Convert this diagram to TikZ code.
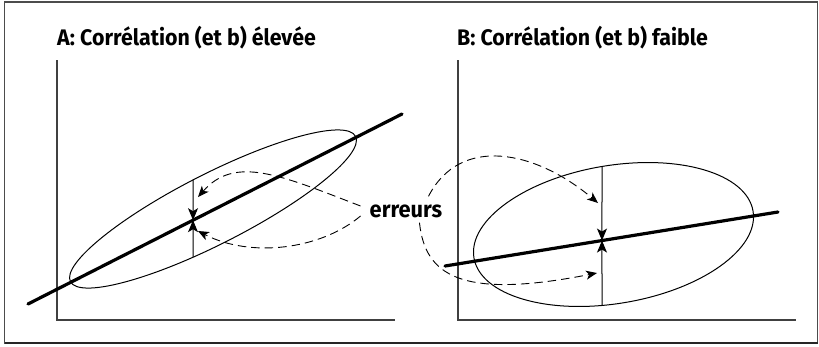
\documentclass[tikz,border=0pt]{standalone}
\usepackage{fontspec}
\setmainfont{Fira Sans}[FakeStretch=0.95]
\usetikzlibrary{arrows.meta,calc}

\begin{document}
\begin{tikzpicture}[x=1pt,y=-1pt,
  axis/.style={draw=black!75,line width=1.3pt},
  fit line/.style={line width=3.2pt,line cap=round},
  cloud/.style={line width=1pt},
  err arrow/.style={line width=1pt,-{Stealth[length=12pt,width=10pt,inset=3pt]}},
  pointer/.style={line width=0.9pt,dash pattern=on 8.5pt off 5pt,-{Stealth[length=11pt,width=9pt,inset=3pt]}},
  title/.style={anchor=base west,inner sep=0pt,font=\fontsize{22.5}{26}\selectfont\bfseries}]
\useasboundingbox (0,0) rectangle (819,346);

% Frame
\draw[black!70,line width=1.2pt] (4.5,2) rectangle (817.5,343);
\draw[black!85,line width=2.4pt] (4.5,343) -- (817.5,343);

% Titles
\node[title] (titleA) at (57,45) {A: Corrélation (et b) élevée};
\node[title] (titleB) at (457,45) {B: Corrélation (et b) faible};

% Axes
\draw[axis] (57,60) -- (57,320) -- (395,320);
\draw[axis] (458,60) -- (458,320) -- (796,320);

% Panel A: ellipse and regression line
\draw[cloud,rotate around={27:(213,209)}] (213,209) ellipse (160 and 35);
\coordinate (la1) at (28,304);
\coordinate (la2) at (402,114);
\draw[fit line] (la1) -- (la2);
\coordinate (va1) at (193,179.5);
\coordinate (va2) at (193,257);
\coordinate (ma) at (intersection of la1--la2 and va1--va2);
\draw[err arrow] (va1) -- (ma);
\draw[err arrow] (va2) -- (ma);

% Panel B: ellipse and regression line
\draw[cloud,rotate around={9.5:(613.5,234.5)}] (613.5,234.5) ellipse (141.5 and 69);
\coordinate (lb1) at (445,266);
\coordinate (lb2) at (778,212);
\draw[fit line] (lb1) -- (lb2);
\coordinate (vb1) at (602,166.5);
\coordinate (vb2) at (602,305.4);
\coordinate (mb) at (intersection of lb1--lb2 and vb1--vb2);
\draw[err arrow] (vb1) -- (mb);
\draw[err arrow] (vb2) -- (mb);

% Label and dashed pointers
\node[inner sep=0pt,font=\fontsize{23}{26}\selectfont\bfseries] (err) at (406,211) {erreurs};
\coordinate (ea1) at ($(err.west)+(-9,-5)$);
\coordinate (ea2) at ($(err.west)+(-9,5)$);
\coordinate (eb1) at ($(err.north east)+(-14,-8)$);
\coordinate (eb2) at ($(err.south east)+(-23,5)$);
\coordinate (ta1) at (198,197);
\coordinate (ta2) at (198,231);
\coordinate (tb1) at (598,203);
\coordinate (tb2) at (597,273);
\draw[pointer] (ea1) .. controls (280,175) and (235,155) .. (ta1);
\draw[pointer] (ea2) .. controls (320,250) and (250,258) .. (ta2);
\draw[pointer] (eb1) .. controls (460,135) and (535,150) .. (tb1);
\draw[pointer] (eb2) .. controls (425,275) and (460,300) .. (tb2);
\end{tikzpicture}
\end{document}
